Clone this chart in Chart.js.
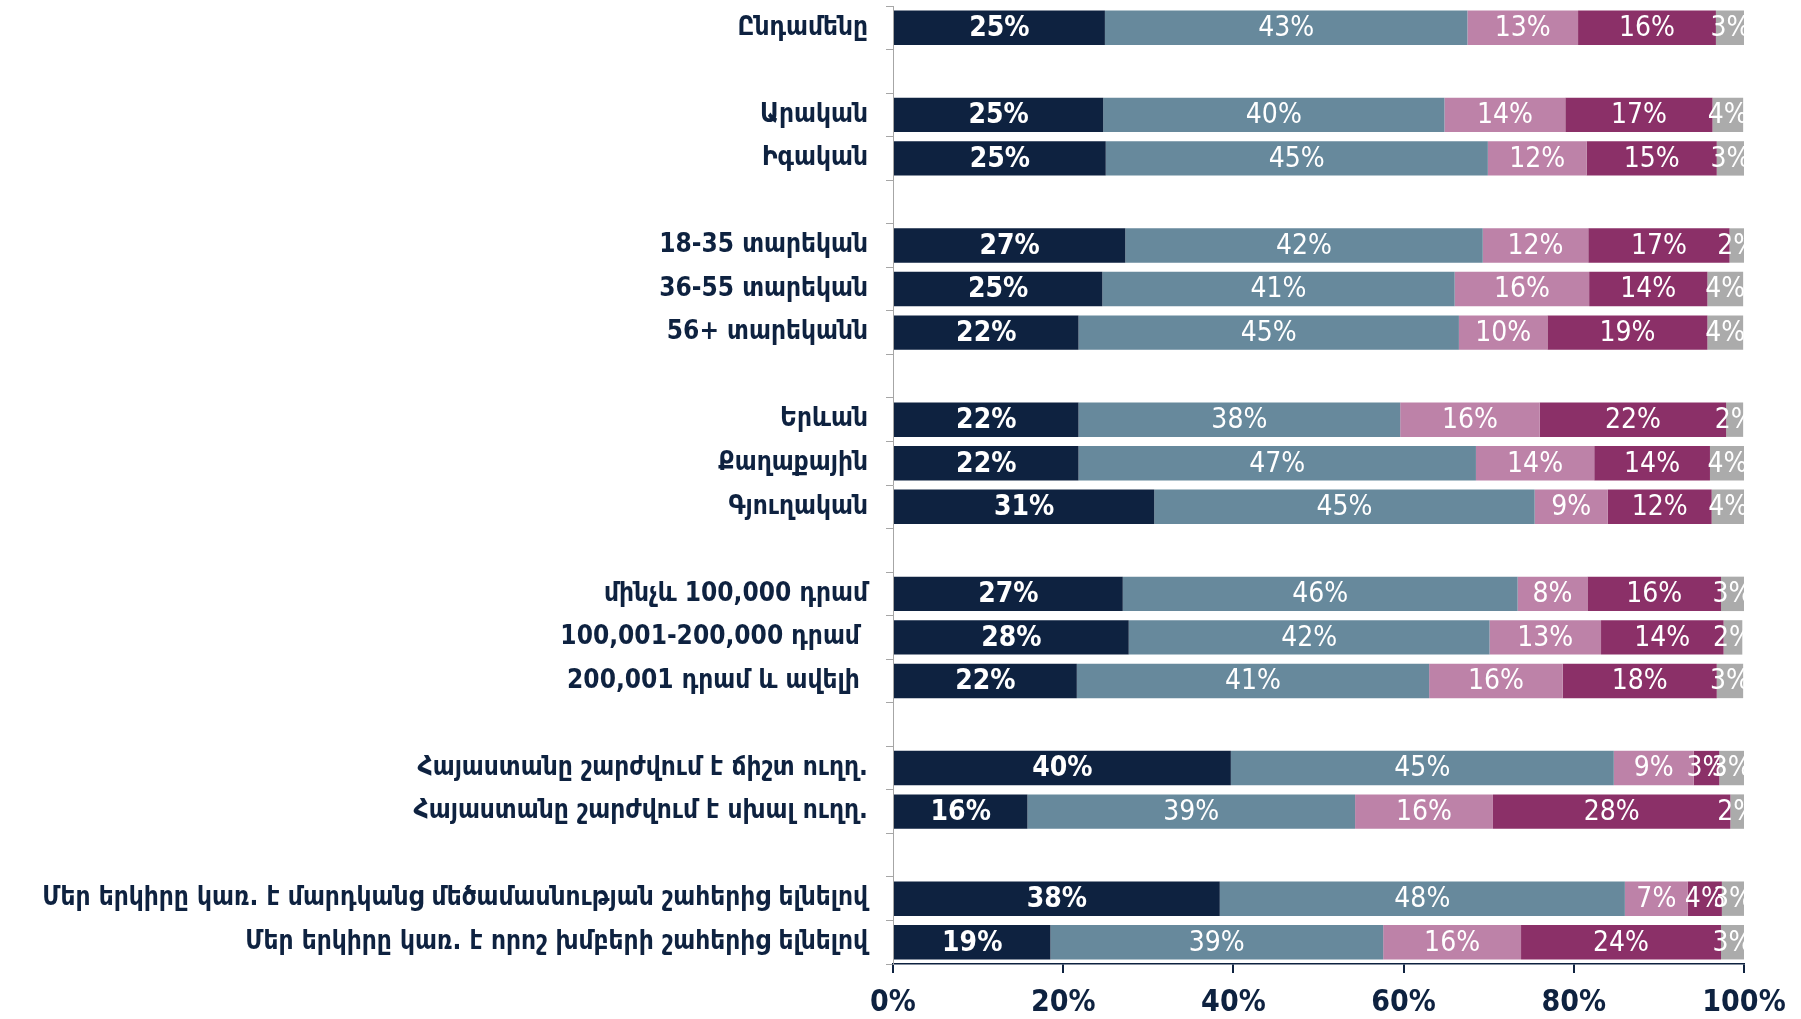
<!DOCTYPE html>
<html><head><meta charset="utf-8">
<script src="https://cdn.jsdelivr.net/npm/chart.js@4.4.1/dist/chart.umd.min.js"></script>
<style>html,body{margin:0;padding:0;background:#fff;}#wrap{width:1801px;height:1019px;}</style>
</head><body><div id="wrap"><canvas id="c" width="1801" height="1019"></canvas></div>
<script>
const categories = [
  'Ընդամենը', '',
  'Արական', 'Իգական', '',
  '18-35 տարեկան', '36-55 տարեկան', '56+ տարեկանն', '',
  'Երևան', 'Քաղաքային', 'Գյուղական', '',
  'մինչև 100,000 դրամ', '100,001-200,000 դրամ ', '200,001 դրամ և ավելի ', '',
  'Հայաստանը շարժվում է ճիշտ ուղղ.', 'Հայաստանը շարժվում է սխալ ուղղ.', '',
  'Մեր երկիրը կառ. է մարդկանց մեծամասնության շահերից ելնելով', 'Մեր երկիրը կառ. է որոշ խմբերի շահերից ելնելով'
];
const series1 = [24.9,null,24.7,25.0,null,27.3,24.6,21.8,null,21.8,21.8,30.7,null,27.0,27.7,21.6,null,39.7,15.8,null,38.4,18.5];
const series2 = [42.6,null,40.1,44.9,null,42.0,41.4,44.7,null,37.8,46.7,44.7,null,46.4,42.4,41.4,null,45.0,38.5,null,47.6,39.1];
const series3 = [13.0,null,14.2,11.6,null,12.4,15.8,10.4,null,16.4,13.9,8.6,null,8.2,13.1,15.7,null,9.4,16.2,null,7.4,16.2];
const series4 = [16.2,null,17.3,15.3,null,16.6,13.9,18.8,null,21.9,13.6,12.2,null,15.7,14.4,18.1,null,3.0,27.9,null,4.0,23.5];
const series5 = [3.4,null,3.6,3.2,null,1.8,4.2,4.2,null,2.0,4.1,3.9,null,2.7,2.2,3.1,null,2.9,1.6,null,2.6,2.7];
const seriesNames = ['Սերիա 1','Սերիա 2','Սերիա 3','Սերիա 4','Սերիա 5'];
const xTickValues = [0,20,40,60,80,100];

const NAVY = '#0E2240';
const colors = ['#0E2240','#67899C','#BD82A8','#8B3068','#ABABAB'];
const allSeries = [series1,series2,series3,series4,series5];
const NARROW = '"DejaVu Sans Condensed", "DejaVu Sans", sans-serif';

const labelPlugin = {
  id: 'segLabels',
  afterDatasetsDraw(chart) {
    const ctx = chart.ctx, a = chart.chartArea;
    ctx.save();
    ctx.beginPath();
    ctx.rect(a.left, a.top, a.right - a.left, a.bottom - a.top);
    ctx.clip();
    ctx.fillStyle = '#ffffff';
    ctx.textAlign = 'center';
    ctx.textBaseline = 'middle';
    chart.data.datasets.forEach((ds, di) => {
      const meta = chart.getDatasetMeta(di);
      ctx.font = (di === 0 ? 'bold ' : '') + '28px ' + NARROW;
      meta.data.forEach((bar, i) => {
        const v = ds.data[i];
        if (v === null || v === undefined) return;
        const cx = (bar.x + bar.base) / 2;
        ctx.fillText(Math.round(v) + '%', cx, bar.y + 1);
      });
    });
    ctx.restore();
  }
};

new Chart(document.getElementById('c'), {
  type: 'bar',
  data: {
    labels: categories,
    datasets: allSeries.map((s, i) => ({
      label: seriesNames[i],
      data: s,
      backgroundColor: colors[i],
      borderWidth: 0,
      barPercentage: 0.79,
      categoryPercentage: 1.0
    }))
  },
  options: {
    indexAxis: 'y',
    responsive: false,
    animation: false,
    layout: { padding: { top: 6, right: 57, left: 0, bottom: 0 } },
    plugins: { legend: { display: false }, tooltip: { enabled: false } },
    scales: {
      x: {
        stacked: true, min: 0, max: 100,
        afterBuildTicks: (s) => { s.ticks = xTickValues.map(v => ({ value: v })); },
        afterFit: (s) => { s.height = 55; s.paddingLeft = 0; s.paddingRight = 0; },
        ticks: { callback: (v) => v + '%', color: NAVY, font: { family: NARROW, size: 30, weight: 'bold' }, padding: 12 },
        grid: { drawOnChartArea: false, tickLength: 9, color: NAVY, lineWidth: 2 },
        border: { color: NAVY, width: 1.5 }
      },
      y: {
        stacked: true,
        afterFit: (s) => { s.width = 893; s.paddingTop = 0; s.paddingBottom = 0; },
        ticks: { autoSkip: false, color: NAVY, font: { family: NARROW, size: 26, weight: 'bold' }, padding: 18 },
        grid: { offset: true, drawOnChartArea: false, tickLength: 7, color: '#A6A6A6', lineWidth: 1 },
        border: { color: '#A6A6A6', width: 1 }
      }
    }
  },
  plugins: [labelPlugin]
});
</script></body></html>
